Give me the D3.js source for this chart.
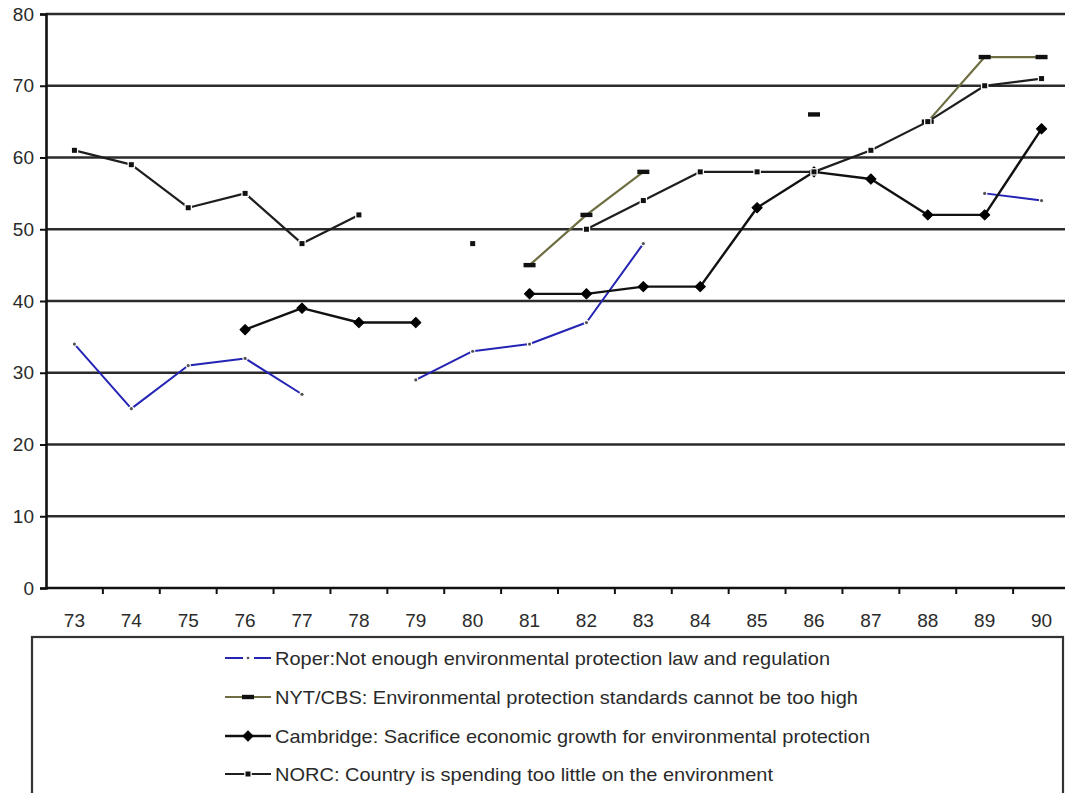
<!DOCTYPE html>
<html>
<head>
<meta charset="utf-8">
<script src="https://cdn.jsdelivr.net/npm/d3@7"></script>
<style>
  html, body { margin: 0; padding: 0; background: #fff; }
  svg { display: block; }
  text { font-family: "Liberation Sans", Arial, sans-serif; fill: #2a2a2a; }
</style>
</head>
<body>
<svg id="chart" width="1065" height="793"></svg>
<script>
// Survey years (19xx) shown along the x axis
const years = ["73","74","75","76","77","78","79","80","81","82","83","84","85","86","87","88","89","90"];
const yTicks = [0, 10, 20, 30, 40, 50, 60, 70, 80];

// Percent agreeing, per poll; null = no survey that year
const roper     = [34, 25, 31, 32, 27, null, 29, 33, 34, 37, 48, null, null, null, null, null, 55, 54];
const nytCbs    = [null, null, null, null, null, null, null, null, 45, 52, 58, null, null, 66, null, 65, 74, 74];
const cambridge = [null, null, null, 36, 39, 37, 37, null, 41, 41, 42, 42, 53, 58, 57, 52, 52, 64];
const norc      = [61, 59, 53, 55, 48, 52, null, 48, null, 50, 54, 58, 58, 58, 61, 65, 70, 71];

const labels = [
  "Roper:Not enough environmental protection law and regulation",
  "NYT/CBS: Environmental protection standards cannot be too high",
  "Cambridge: Sacrifice economic growth for environmental protection",
  "NORC: Country is spending too little on the environment"
];

const svg = d3.select("#chart");
const x0 = 46, x1 = 1070, yTop = 14, yBot = 588;

const x = d3.scaleBand().domain(years).range([x0, x1]).padding(0);
const y = d3.scaleLinear().domain([0, 80]).range([yBot, yTop]);
const cx = d => x(d) + x.bandwidth() / 2;

// horizontal gridlines
svg.append("g").selectAll("line").data(yTicks.filter(t => t > 0)).join("line")
  .attr("x1", x0).attr("x2", 1065)
  .attr("y1", d => y(d)).attr("y2", d => y(d))
  .attr("stroke", "#2b2b2b").attr("stroke-width", 2.6);

// y axis
const yAxis = svg.append("g").attr("transform", `translate(${x0},0)`)
  .call(d3.axisLeft(y).tickValues(yTicks).tickSize(6).tickPadding(6));
yAxis.select(".domain").attr("stroke", "#111").attr("stroke-width", 2.6);
yAxis.selectAll(".tick line").attr("stroke", "#111").attr("stroke-width", 2);
yAxis.selectAll("text").attr("font-size", 19).attr("font-family", "Liberation Sans, Arial, sans-serif").attr("fill", "#2a2a2a");

// x axis with ticks on band boundaries
const xg = svg.append("g").attr("transform", `translate(0,${yBot})`);
xg.append("line").attr("x1", x0).attr("x2", 1065).attr("y1", 0).attr("y2", 0)
  .attr("stroke", "#111").attr("stroke-width", 2.6);
xg.selectAll("line.tk").data(years.slice(1)).join("line").attr("class", "tk")
  .attr("x1", d => x(d)).attr("x2", d => x(d)).attr("y1", 0).attr("y2", 6)
  .attr("stroke", "#111").attr("stroke-width", 2);
xg.selectAll("text").data(years).join("text")
  .attr("x", d => cx(d)).attr("y", 39)
  .attr("text-anchor", "middle").attr("font-size", 19).text(d => d);

const line = d3.line()
  .defined(d => d.v != null)
  .x(d => cx(d.k)).y(d => y(d.v));
const pts = arr => years.map((k, i) => ({ k, v: arr[i] }));

const series = [
  { data: roper, color: "#2424b4", width: 2, marker: "dot" },
  { data: nytCbs, color: "#6e6e42", width: 2.2, marker: "dash" },
  { data: cambridge, color: "#111", width: 2.4, marker: "diamond" },
  { data: norc, color: "#1e1e1e", width: 2.2, marker: "square" }
];

function drawMarker(g, type, px, py) {
  if (type === "dot") {
    g.append("circle").attr("cx", px).attr("cy", py).attr("r", 1.6)
      .attr("fill", "#555").attr("stroke", "#fff").attr("stroke-width", 2.2).attr("paint-order", "stroke");
  } else if (type === "dash") {
    g.append("rect").attr("x", px - 6).attr("y", py - 2.2).attr("width", 12).attr("height", 4.4)
      .attr("fill", "#111");
  } else if (type === "diamond") {
    g.append("path").attr("d", d3.symbol(d3.symbolSquare, 52)())
      .attr("transform", `translate(${px},${py}) rotate(45)`).attr("fill", "#000")
      .attr("stroke", "#000").attr("stroke-width", 1).attr("stroke-linejoin", "round");
  } else if (type === "square") {
    g.append("rect").attr("x", px - 2.5).attr("y", py - 2.5).attr("width", 5).attr("height", 5)
      .attr("fill", "#111").attr("stroke", "#fff").attr("stroke-width", 2.5).attr("paint-order", "stroke");
  }
}

series.forEach(s => {
  const g = svg.append("g");
  g.append("path").datum(pts(s.data)).attr("d", line)
    .attr("fill", "none").attr("stroke", s.color).attr("stroke-width", s.width)
    .attr("stroke-linejoin", "round");
  pts(s.data).filter(d => d.v != null).forEach(d => drawMarker(g, s.marker, cx(d.k), y(d.v)));
});

// legend
const lg = svg.append("g");
lg.append("rect").attr("x", 32).attr("y", 637).attr("width", 1031).attr("height", 160)
  .attr("fill", "none").attr("stroke", "#333").attr("stroke-width", 2.2);
const rowY = [658, 697, 736, 774];
const rowW = [555, 583, 595, 498];
series.forEach((s, i) => {
  const ly = rowY[i];
  const g = lg.append("g");
  if (s.marker === "dot") {
    g.append("line").attr("x1", 225).attr("x2", 243).attr("y1", ly).attr("y2", ly)
      .attr("stroke", s.color).attr("stroke-width", s.width);
    g.append("line").attr("x1", 254).attr("x2", 271).attr("y1", ly).attr("y2", ly)
      .attr("stroke", s.color).attr("stroke-width", s.width);
    g.append("circle").attr("cx", 248).attr("cy", ly).attr("r", 1.3).attr("fill", "#555");
  } else {
    g.append("line").attr("x1", 225).attr("x2", 271).attr("y1", ly).attr("y2", ly)
      .attr("stroke", s.color).attr("stroke-width", s.width);
    drawMarker(g, s.marker, 248, ly);
  }
  g.append("text").attr("x", 275).attr("y", ly + 7).attr("font-size", 19)
    .attr("textLength", rowW[i]).attr("lengthAdjust", "spacingAndGlyphs")
    .text(labels[i]);
});
</script>
</body>
</html>
